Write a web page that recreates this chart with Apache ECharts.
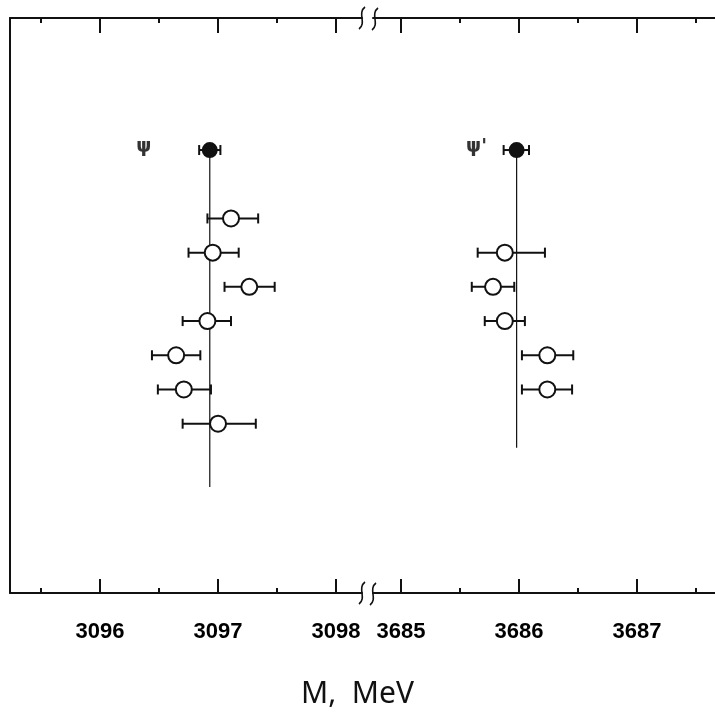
<!DOCTYPE html>
<html>
<head>
<meta charset="utf-8">
<script src="https://cdn.jsdelivr.net/npm/echarts@6.0.0/dist/echarts.min.js"></script>
<style>
html, body { margin: 0; padding: 0; background: #fff; }
#chart { width: 715px; height: 713px; }
</style>
</head>
<body>
<div id="chart"></div>
<script>
// left panel: psi measurements (row 0 = reference value, filled)
var psiRows   = [0, 2, 3, 4, 5, 6, 7, 8];
var psiMass   = [3096.93, 3097.11, 3096.955, 3097.265, 3096.91, 3096.645, 3096.71, 3097.00];
var psiLow    = [3096.84, 3096.91, 3096.75, 3097.055, 3096.70, 3096.44, 3096.49, 3096.70];
var psiHigh   = [3097.02, 3097.34, 3097.175, 3097.48, 3097.11, 3096.85, 3096.94, 3097.32];
var psiFilled = [1, 0, 0, 0, 0, 0, 0, 0];

// right panel: psi' measurements
var psi2Rows   = [0, 3, 4, 5, 6, 7];
var psi2Mass   = [3685.98, 3685.88, 3685.78, 3685.88, 3686.24, 3686.24];
var psi2Low    = [3685.87, 3685.65, 3685.60, 3685.71, 3686.025, 3686.025];
var psi2High   = [3686.085, 3686.22, 3685.96, 3686.05, 3686.46, 3686.45];
var psi2Filled = [1, 0, 0, 0, 0, 0];

var psiTicks = [3096, 3097, 3098];
var psiMinorTicks = [3095.5, 3096.5, 3097.5];
var psi2Ticks = [3685, 3686, 3687];
var psi2MinorTicks = [3685.5, 3686.5, 3687.5];

var stateNames = ['ψ', "ψ'"];
var stateLabelX = [3096.37, 3685.64];
var refLineEnd = [9.85, 8.7];

var psiRange = [3095.237, 3098.22];
var psi2Range = [3684.763, 3687.661];
var rowRange = [-3.86, 12.95];

function buildPoints(mass, rows, low, high, filled) {
    var out = [];
    for (var i = 0; i < mass.length; i++) {
        out.push([mass[i], rows[i], low[i], high[i], filled[i]]);
    }
    return out;
}

function renderErrorPoint(params, api) {
    var row = api.value(1);
    var c = api.coord([api.value(0), row]);
    var lo = api.coord([api.value(2), row]);
    var hi = api.coord([api.value(3), row]);
    var filled = api.value(4) === 1;
    var cap = 5;
    var st = { stroke: '#111', lineWidth: 2 };
    return {
        type: 'group',
        children: [
            { type: 'line', shape: { x1: lo[0], y1: c[1], x2: hi[0], y2: c[1] }, style: st },
            { type: 'line', shape: { x1: lo[0], y1: c[1] - cap, x2: lo[0], y2: c[1] + cap }, style: st },
            { type: 'line', shape: { x1: hi[0], y1: c[1] - cap, x2: hi[0], y2: c[1] + cap }, style: st },
            { type: 'circle', shape: { cx: c[0], cy: c[1], r: filled ? 7 : 8 },
              style: { fill: filled ? '#111' : '#fff', stroke: '#111', lineWidth: 2 } }
        ]
    };
}

function makeAxis(grid, range, pos, ticks, len, withLine, withLabels) {
    return {
        type: 'value',
        gridIndex: grid,
        position: pos,
        min: range[0],
        max: range[1],
        splitLine: { show: false },
        axisLine: { show: withLine, onZero: false, lineStyle: { color: '#111', width: 2 } },
        axisTick: { show: true, inside: true, length: len, customValues: ticks,
                    lineStyle: { color: '#111', width: 2 } },
        axisLabel: {
            show: withLabels,
            customValues: ticks,
            formatter: function (v) { return String(Math.round(v)); },
            margin: 28,
            color: '#000',
            fontSize: 22,
            fontWeight: 'bold',
            fontFamily: 'Liberation Sans, Arial, sans-serif'
        }
    };
}

function breakMark(x, y) {
    return {
        type: 'bezierCurve',
        shape: { x1: x + 3, y1: y - 11, cpx1: x - 5, cpy1: y - 5, cpx2: x + 5, cpy2: y + 5, x2: x - 3, y2: y + 11 },
        style: { stroke: '#111', lineWidth: 1.6, fill: null }
    };
}

var stateLabel = {
    show: true, position: 'inside', fontSize: 19, fontWeight: 'bold',
    color: '#000', textBorderWidth: 0, fontFamily: 'DejaVu Sans, sans-serif'
};

var chart = echarts.init(document.getElementById('chart'));

chart.setOption({
    backgroundColor: '#fff',
    animation: false,
    title: {
        text: 'M,  MeV',
        left: 'center',
        top: 674,
        textStyle: { fontSize: 30, fontWeight: 'normal', color: '#111', fontFamily: 'Noto Sans, DejaVu Sans, sans-serif' }
    },
    grid: [
        { left: 10, right: 353, top: 18, bottom: 120 },
        { left: 373, right: 0, top: 18, bottom: 120 }
    ],
    xAxis: [
        makeAxis(0, psiRange, 'bottom', psiTicks, 14, true, true),
        makeAxis(0, psiRange, 'top', psiTicks, 15, true, false),
        makeAxis(0, psiRange, 'bottom', psiMinorTicks, 5, false, false),
        makeAxis(0, psiRange, 'top', psiMinorTicks, 5, false, false),
        makeAxis(1, psi2Range, 'bottom', psi2Ticks, 14, true, true),
        makeAxis(1, psi2Range, 'top', psi2Ticks, 15, true, false),
        makeAxis(1, psi2Range, 'bottom', psi2MinorTicks, 5, false, false),
        makeAxis(1, psi2Range, 'top', psi2MinorTicks, 5, false, false)
    ],
    yAxis: [
        { type: 'value', gridIndex: 0, inverse: true, min: rowRange[0], max: rowRange[1],
          splitLine: { show: false }, axisTick: { show: false }, axisLabel: { show: false },
          axisLine: { show: true, onZero: false, lineStyle: { color: '#111', width: 2 } } },
        { type: 'value', gridIndex: 1, inverse: true, min: rowRange[0], max: rowRange[1], show: false }
    ],
    graphic: [
        breakMark(362, 593), breakMark(373, 594),
        breakMark(362, 18), breakMark(375, 19)
    ],
    series: [
        {
            type: 'line', xAxisIndex: 0, yAxisIndex: 0, symbol: 'none', z: 1,
            lineStyle: { color: '#111', width: 1.2 },
            data: [[psiMass[0], 0], [psiMass[0], refLineEnd[0]]]
        },
        {
            type: 'line', xAxisIndex: 4, yAxisIndex: 1, symbol: 'none', z: 1,
            lineStyle: { color: '#111', width: 1.2 },
            data: [[psi2Mass[0], 0], [psi2Mass[0], refLineEnd[1]]]
        },
        {
            type: 'custom', xAxisIndex: 0, yAxisIndex: 0, z: 3,
            renderItem: renderErrorPoint,
            data: buildPoints(psiMass, psiRows, psiLow, psiHigh, psiFilled)
        },
        {
            type: 'custom', xAxisIndex: 4, yAxisIndex: 1, z: 3,
            renderItem: renderErrorPoint,
            data: buildPoints(psi2Mass, psi2Rows, psi2Low, psi2High, psi2Filled)
        },
        {
            type: 'scatter', xAxisIndex: 0, yAxisIndex: 0, symbolSize: 0,
            label: Object.assign({ formatter: stateNames[0] }, stateLabel),
            data: [[stateLabelX[0], -0.08]]
        },
        {
            type: 'scatter', xAxisIndex: 4, yAxisIndex: 1, symbolSize: 0,
            label: Object.assign({ formatter: stateNames[1] }, stateLabel),
            data: [[stateLabelX[1], -0.08]]
        }
    ]
});
</script>
</body>
</html>
